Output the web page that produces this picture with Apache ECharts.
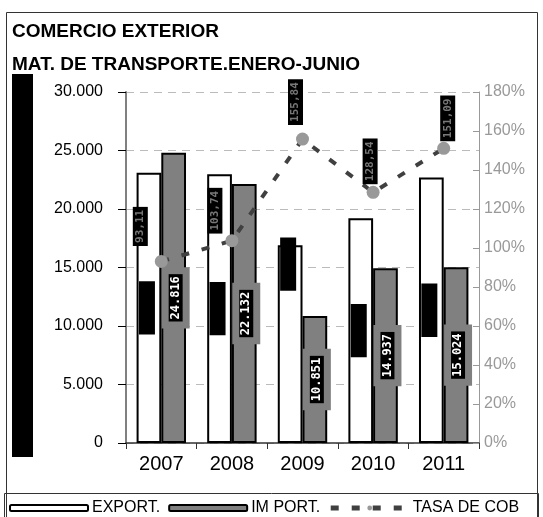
<!DOCTYPE html>
<html>
<head>
<meta charset="utf-8">
<script src="https://cdn.jsdelivr.net/npm/echarts@6/dist/echarts.min.js"></script>
<style>
html,body{margin:0;padding:0;background:#fff;}
#chart{width:543px;height:517px;}
</style>
</head>
<body>
<div id="chart"></div>
<script>
// ---- data ----
const years = ['2007', '2008', '2009', '2010', '2011'];
const exportVals = [23105, 22960, 16910, 19200, 22700];
const importVals = [24816, 22132, 10851, 14937, 15024];
const coverageRate = [93.11, 103.74, 155.84, 128.54, 151.09];
const leftAxisTicks = [0, 5000, 10000, 15000, 20000, 25000, 30000];
const rightAxisTicks = [0, 20, 40, 60, 80, 100, 120, 140, 160, 180];
const seriesNames = ['EXPORT.', 'IM PORT.', 'TASA DE COB'];
const titleLines = ['COMERCIO EXTERIOR', 'MAT. DE TRANSPORTE.ENERO-JUNIO'];

// ---- helpers / styles ----
function thousands(v) {
  return String(Math.round(v)).replace(/\B(?=(\d{3})+(?!\d))/g, '.');
}
const rateLabelShift = [[-21, -35], [-17, -30], [-7, -37], [-3, -31], [4, -30]];
const exportLabelShiftY = [0, 0, -80, 0, 0];
const FONT = 'Liberation Sans, Arial, sans-serif';

const chart = echarts.init(document.getElementById('chart'), null, {renderer: 'canvas'});

const rateData = coverageRate.map((v, i) => {
  const s = rateLabelShift[i];
  return {value: v, label: {offset: [-s[1], s[0]]}};
});
const exportData = exportVals.map((v, i) => ({
  value: v,
  label: {offset: [-exportLabelShiftY[i], -2]}
}));

const option = {
  backgroundColor: '#fff',
  animation: false,
  graphic: [
    {type: 'rect', shape: {x: 6.5, y: 12.5, width: 531, height: 510}, style: {fill: 'none', stroke: '#333', lineWidth: 1}, z: 0},
    {type: 'rect', shape: {x: 4.5, y: 493.5, width: 534, height: 30}, style: {fill: 'none', stroke: '#333', lineWidth: 1}, z: 0},
    {type: 'rect', shape: {x: 12, y: 74, width: 21, height: 383}, style: {fill: '#000'}, z: 1},
    {type: 'text', left: 12, top: 22, style: {text: titleLines[0], font: 'bold 19px ' + FONT, fill: '#000'}},
    {type: 'text', left: 12, top: 55, style: {text: titleLines[1], font: 'bold 19px ' + FONT, fill: '#000'}}
  ],
  legend: {
    top: 495,
    left: 4,
    itemWidth: 78,
    itemHeight: 6,
    itemGap: 8,
    textStyle: {fontSize: 16, fontFamily: FONT, color: '#000', padding: [0, 0, 0, -1]},
    data: [
      seriesNames[0],
      seriesNames[1],
      {name: seriesNames[2], lineStyle: {width: 5}}
    ]
  },
  grid: {left: 126, right: 64, top: 92, bottom: 74},
  xAxis: {
    type: 'category',
    data: years,
    axisLine: {lineStyle: {color: '#333', width: 1.5}},
    axisTick: {show: true, length: 6, lineStyle: {color: '#333'}},
    axisLabel: {fontSize: 20, fontFamily: FONT, color: '#000', margin: 11}
  },
  yAxis: [
    {
      type: 'value',
      min: leftAxisTicks[0],
      max: leftAxisTicks[leftAxisTicks.length - 1],
      interval: leftAxisTicks[1] - leftAxisTicks[0],
      axisLine: {show: true, lineStyle: {color: '#808080', width: 2}},
      axisTick: {show: true, length: 8, lineStyle: {color: '#000'}},
      axisLabel: {fontSize: 16, fontFamily: FONT, color: '#000', margin: 23, formatter: v => thousands(v)},
      splitLine: {show: true, lineStyle: {color: '#bbb', type: [8, 6]}}
    },
    {
      type: 'value',
      min: rightAxisTicks[0],
      max: rightAxisTicks[rightAxisTicks.length - 1],
      interval: rightAxisTicks[1] - rightAxisTicks[0],
      axisLine: {show: true, lineStyle: {color: '#999', width: 1}},
      axisTick: {show: true, inside: true, length: 6, lineStyle: {color: '#999'}},
      axisLabel: {fontSize: 16, fontFamily: FONT, color: '#999', margin: 5, formatter: v => v + '%'},
      splitLine: {show: false}
    }
  ],
  series: [
    {
      name: seriesNames[0],
      type: 'bar',
      data: exportData,
      barGap: '0%',
      barCategoryGap: '30%',
      itemStyle: {color: '#fff', borderColor: '#000', borderWidth: 2},
      label: {
        show: true, position: 'inside', rotate: 90,
        formatter: p => thousands(p.value),
        fontSize: 12, fontWeight: 'bold', fontFamily: 'DejaVu Sans Mono, monospace',
        color: '#000', backgroundColor: '#000', padding: [2, 5]
      },
      z: 2
    },
    {
      name: seriesNames[1],
      type: 'bar',
      data: importVals,
      itemStyle: {color: '#808080', borderColor: '#000', borderWidth: 2},
      label: {
        show: true, position: 'inside', rotate: 90, offset: [0, 2],
        formatter: p => thousands(p.value),
        fontSize: 12, fontWeight: 'bold', fontFamily: 'DejaVu Sans Mono, monospace',
        color: '#fff', backgroundColor: '#000', borderColor: '#808080', borderWidth: 7,
        padding: [1, 2]
      },
      z: 3
    },
    {
      name: seriesNames[2],
      type: 'line',
      yAxisIndex: 1,
      data: rateData,
      symbol: 'circle',
      symbolSize: 13,
      itemStyle: {color: '#999'},
      lineStyle: {color: '#404040', width: 4, type: [8, 13]},
      label: {
        show: true, position: 'inside', rotate: 90,
        formatter: p => p.value.toFixed(2).replace('.', ','),
        fontSize: 11, fontWeight: 'bold', fontFamily: 'DejaVu Sans Mono, monospace',
        color: '#777', backgroundColor: '#000', padding: [2, 3]
      },
      z: 5
    }
  ]
};
chart.setOption(option);
</script>
</body>
</html>
